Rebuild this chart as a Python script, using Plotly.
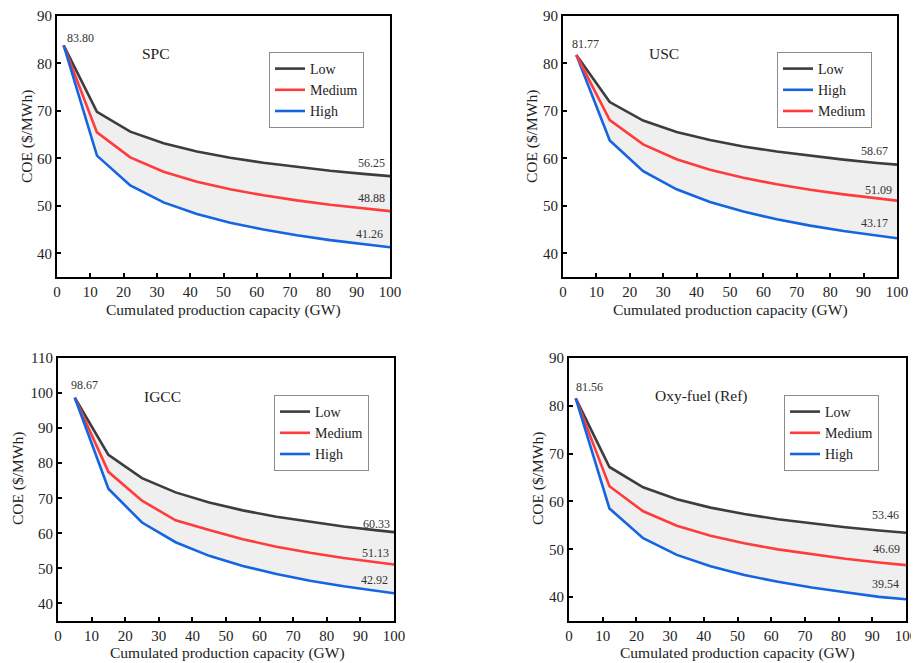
import plotly.graph_objects as go

# ---------------- data ----------------
spc_x = [2, 12, 22, 32, 42, 52, 62, 72, 82, 92, 100]
spc_low = [83.80, 69.82, 65.63, 63.17, 61.45, 60.13, 59.06, 58.16, 57.40, 56.73, 56.25]
spc_med = [83.80, 65.47, 60.22, 57.19, 55.09, 53.49, 52.21, 51.14, 50.23, 49.44, 48.88]
spc_high = [83.80, 60.58, 54.28, 50.72, 48.28, 46.45, 44.99, 43.79, 42.77, 41.89, 41.26]

usc_x = [4, 14, 24, 34, 44, 54, 64, 74, 84, 94, 100]
usc_low = [81.77, 71.86, 67.97, 65.57, 63.85, 62.52, 61.43, 60.52, 59.74, 59.04, 58.67]
usc_med = [81.77, 68.08, 62.94, 59.81, 57.60, 55.90, 54.53, 53.39, 52.41, 51.55, 51.09]
usc_high = [81.77, 63.77, 57.30, 53.48, 50.81, 48.78, 47.17, 45.83, 44.69, 43.70, 43.17]

igcc_x = [5, 15, 25, 35, 45, 55, 65, 75, 85, 95, 100]
igcc_low = [98.67, 82.38, 75.75, 71.68, 68.78, 66.55, 64.75, 63.25, 61.96, 60.84, 60.33]
igcc_med = [98.67, 77.53, 69.31, 63.73, 60.92, 58.30, 56.20, 54.46, 52.98, 51.71, 51.13]
igcc_high = [98.67, 72.71, 63.09, 57.46, 53.58, 50.68, 48.38, 46.49, 44.90, 43.54, 42.92]

oxy_x = [2, 12, 22, 32, 42, 52, 62, 72, 82, 92, 100]
oxy_low = [81.56, 67.21, 62.95, 60.46, 58.71, 57.37, 56.29, 55.39, 54.62, 53.94, 53.46]
oxy_med = [81.56, 63.17, 57.94, 54.93, 52.84, 51.25, 49.98, 48.93, 48.03, 47.25, 46.69]
oxy_high = [81.56, 58.54, 52.33, 48.82, 46.43, 44.63, 43.20, 42.02, 41.02, 40.04, 39.54]

panel_names = ["SPC", "USC", "IGCC", "Oxy-fuel (Ref)"]
x_ticks = [0, 10, 20, 30, 40, 50, 60, 70, 80, 90, 100]
x_title = "Cumulated production capacity (GW)"
y_title = "COE ($/MWh)"

# ---------------- style / layout helpers ----------------
FONT = "Liberation Serif"
C_LOW = "#3d3d3d"
C_MED = "#ff3b3b"
C_HIGH = "#1565e0"
FILL = "#efefef"
TXT = "#222222"

OFF = 8            # default page body margin
W, H = 919 - OFF, 663 - OFF


def fx(px):
    return (px - OFF) / W


def fy(py):
    return 1 - (py - OFF) / H


panels = [
    dict(x=spc_x, low=spc_low, med=spc_med, high=spc_high,
         order=["Low", "Medium", "High"], yr=[35, 90],
         box=(57, 390, 16, 277), leg=(269, 52),
         xt=(223, 310), yt=(27, 137),
         start=(7.2, 85.3), title=(29.7, 82.1),
         ends=[(99, 59.1), (99, 51.7), (98.6, 44.1)]),
    dict(x=usc_x, low=usc_low, med=usc_med, high=usc_high,
         order=["Low", "High", "Medium"], yr=[35, 90],
         box=(563, 897, 16, 277), leg=(777, 52),
         xt=(730, 310), yt=(532, 137),
         start=(6.8, 84.0), title=(30.2, 82.1),
         ends=[(98, 61.5), (99, 53.4), (97.8, 46.3)]),
    dict(x=igcc_x, low=igcc_low, med=igcc_med, high=igcc_high,
         order=["Low", "Medium", "High"], yr=[35, 110],
         box=(58, 394, 358, 621), leg=(274, 395),
         xt=(227, 653), yt=(18, 479),
         start=(7.8, 102.2), title=(31.2, 99.1),
         ends=[(99.5, 62.8), (99.2, 54.4), (98.7, 46.6)]),
    dict(x=oxy_x, low=oxy_low, med=oxy_med, high=oxy_high,
         order=["Low", "Medium", "High"], yr=[35, 90],
         box=(569, 906, 358, 621), leg=(784, 395),
         xt=(737, 653), yt=(538, 479),
         start=(6.2, 84.0), title=(39.4, 82.0),
         ends=[(98.4, 57.2), (98.8, 50.1), (98.6, 42.8)]),
]

fig = go.Figure()
annotations = []
layout = {}

for i, p in enumerate(panels):
    n = "" if i == 0 else str(i + 1)
    xa, ya = "x" + n, "y" + n
    lg = "legend" + n
    # shaded band between Low and High
    fig.add_trace(go.Scatter(
        x=p["x"] + p["x"][::-1], y=p["low"] + p["high"][::-1],
        fill="toself", fillcolor=FILL, line=dict(width=0),
        mode="lines", hoverinfo="skip", showlegend=False,
        xaxis=xa, yaxis=ya))
    series = {"Low": (p["low"], C_LOW), "Medium": (p["med"], C_MED),
              "High": (p["high"], C_HIGH)}
    for name in p["order"]:
        vals, col = series[name]
        fig.add_trace(go.Scatter(
            x=p["x"], y=vals, mode="lines", name=name,
            line=dict(color=col, width=2.6),
            xaxis=xa, yaxis=ya, legend=lg))
    axis_common = dict(showline=True, linecolor="black", linewidth=2,
                       mirror=True, ticks="inside", ticklen=4, tickwidth=2,
                       tickcolor="black", showgrid=False, zeroline=False,
                       automargin=False,
                       tickfont=dict(family=FONT, size=15, color=TXT))
    l, r, t, b = p["box"]
    layout["xaxis" + n] = dict(
        axis_common, domain=[fx(l), fx(r)], anchor=ya, range=[0, 100],
        tickvals=x_ticks)
    layout["yaxis" + n] = dict(
        axis_common, domain=[fy(b), fy(t)], anchor=xa, range=p["yr"],
        dtick=10, tick0=0)
    layout[lg] = dict(
        x=fx(p["leg"][0]), y=fy(p["leg"][1]), xanchor="left", yanchor="top",
        xref="paper", yref="paper",
        bgcolor="white", bordercolor="#8c8c8c", borderwidth=1,
        font=dict(family=FONT, size=14, color=TXT),
        tracegroupgap=0, itemwidth=30)
    # axis titles
    annotations.append(dict(
        x=fx(p["xt"][0]), y=fy(p["xt"][1]), xref="paper", yref="paper",
        xanchor="center", yanchor="middle",
        text=x_title, showarrow=False,
        font=dict(family=FONT, size=15.5, color=TXT)))
    annotations.append(dict(
        x=fx(p["yt"][0]), y=fy(p["yt"][1]), xref="paper", yref="paper",
        xanchor="center", yanchor="middle",
        text=y_title, showarrow=False, textangle=-90,
        font=dict(family=FONT, size=15.5, color=TXT)))
    # start value and panel title
    annotations.append(dict(
        x=p["start"][0], y=p["start"][1], xref=xa, yref=ya,
        text=f"{p['low'][0]:.2f}", showarrow=False,
        font=dict(family=FONT, size=12, color="#333")))
    annotations.append(dict(
        x=p["title"][0], y=p["title"][1], xref=xa, yref=ya,
        text=panel_names[i], showarrow=False,
        font=dict(family=FONT, size=15.5, color=TXT)))
    for (ex, ey), vals in zip(p["ends"], [p["low"], p["med"], p["high"]]):
        annotations.append(dict(
            x=ex, y=ey, xref=xa, yref=ya, xanchor="right",
            text=f"{vals[-1]:.2f}", showarrow=False,
            font=dict(family=FONT, size=12, color="#333")))

fig.update_layout(
    width=W, height=H,
    margin=dict(l=0, r=0, t=0, b=0),
    paper_bgcolor="white", plot_bgcolor="white",
    annotations=annotations,
    **layout)

fig.write_html("out.html")
